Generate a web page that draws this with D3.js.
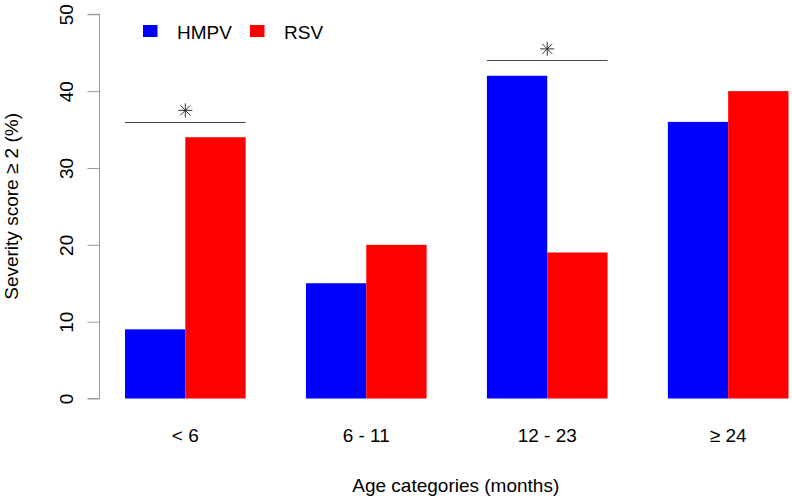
<!DOCTYPE html>
<html>
<head>
<meta charset="utf-8">
<script src="https://cdn.jsdelivr.net/npm/d3@7"></script>
<style>
  body { margin: 0; background: #fff; }
  svg { display: block; font-family: "Liberation Sans", Arial, sans-serif; }
</style>
</head>
<body>
<svg id="chart" width="792" height="498"></svg>
<script>
const categories = ["< 6", "6 - 11", "12 - 23", "\u2265 24"];
const seriesNames = ["HMPV", "RSV"];
const hmpv = [9, 15, 42, 36];
const rsv = [34, 20, 19, 40];
const seriesColors = ["#0000ff", "#ff0000"];
const yTicks = [0, 10, 20, 30, 40, 50];
// significance brackets: category index and bracket height (%)
const sigGroups = [0, 2];
const sigLevels = [36, 44];

const svg = d3.select("#chart");
const series = [hmpv, rsv];

// x in R barplot units: each group has 2 bars of width 1, plus spacing of 1 before the group
const x = d3.scaleLinear().domain([1, 12]).range([125, 788.5]);
const y = d3.scaleLinear().domain([0, 50]).range([398.5, 14.3]);

const groupStart = i => 1 + i * 3;

// bars
categories.forEach((c, i) => {
  series.forEach((s, k) => {
    const u0 = groupStart(i) + k;
    svg.append("rect")
      .attr("x", x(u0))
      .attr("width", x(u0 + 1) - x(u0))
      .attr("y", y(s[i]))
      .attr("height", y(0) - y(s[i]))
      .attr("fill", seriesColors[k]);
  });
});

// y axis
const yAxis = d3.axisLeft(y).tickValues(yTicks).tickSize(12).tickPadding(0).tickFormat(d3.format("d"));
const yg = svg.append("g").attr("transform", "translate(99.5,0)").call(yAxis);
yg.select(".domain").attr("stroke", "#999").attr("d", `M-12,${y(50)}H0V${y(0)}H-12`);
yg.selectAll(".tick line").attr("stroke", "#999");
yg.selectAll(".tick text")
  .attr("x", 0).attr("y", 0).attr("dy", null)
  .attr("transform", "translate(-27,0) rotate(-90)")
  .attr("text-anchor", "middle")
  .attr("font-size", 19)
  .attr("font-family", "Liberation Sans, Arial, sans-serif")
  .attr("fill", "#000");

// category labels
categories.forEach((c, i) => {
  svg.append("text")
    .attr("x", x(groupStart(i) + 1))
    .attr("y", 442)
    .attr("text-anchor", "middle")
    .attr("font-size", 19)
    .text(c);
});

// axis titles
svg.append("text")
  .attr("x", x(6.5) - 1)
  .attr("y", 492)
  .attr("text-anchor", "middle")
  .attr("font-size", 19)
  .text("Age categories (months)");

svg.append("text")
  .attr("transform", `translate(18,${(y(0) + y(50)) / 2}) rotate(-90)`)
  .attr("text-anchor", "middle")
  .attr("font-size", 19)
  .text("Severity score \u2265 2 (%)");

// significance brackets and asterisks
sigGroups.forEach((g, j) => {
  const lv = sigLevels[j];
  const u0 = groupStart(g);
  svg.append("line")
    .attr("x1", x(u0)).attr("x2", x(u0 + 2))
    .attr("y1", Math.round(y(lv)) + 0.5).attr("y2", Math.round(y(lv)) + 0.5)
    .attr("stroke", "#444").attr("stroke-width", 1.2);
  const cx = x(u0 + 1), cy = y(lv + 1.5);
  const a = 7, b = 5;
  const star = svg.append("g").attr("stroke", "#333").attr("stroke-width", 1);
  star.append("line").attr("x1", cx - a).attr("x2", cx + a).attr("y1", cy).attr("y2", cy);
  star.append("line").attr("x1", cx).attr("x2", cx).attr("y1", cy - a).attr("y2", cy + a);
  star.append("line").attr("x1", cx - b).attr("x2", cx + b).attr("y1", cy - b).attr("y2", cy + b);
  star.append("line").attr("x1", cx - b).attr("x2", cx + b).attr("y1", cy + b).attr("y2", cy - b);
});

// legend
const legendX = [143, 250];
seriesNames.forEach((n, k) => {
  svg.append("rect")
    .attr("x", legendX[k]).attr("y", 25)
    .attr("width", 14.5).attr("height", 12)
    .attr("fill", seriesColors[k]);
  svg.append("text")
    .attr("x", legendX[k] + 34)
    .attr("y", 38.5)
    .attr("font-size", 19)
    .text(n);
});
</script>
</body>
</html>
